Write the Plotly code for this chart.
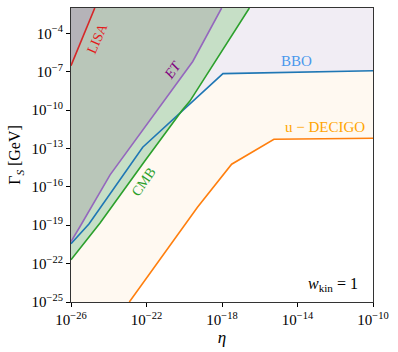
import plotly.graph_objects as go

# axis limits (log10)
X_MIN, X_MAX = -26, -10
Y_MIN, Y_MAX = -25, -2.02

# curves (log10 eta, log10 Gamma_S)
lisa_x = [-26.0, -24.74]
lisa_y = [-6.53, -2.02]

et_x = [-26.0, -25.52, -23.93, -22.96, -19.55, -18.02]
et_y = [-20.27, -19.1, -15.06, -13.11, -6.2, -2.02]

cmb_x = [-26.0, -24.46, -22.1, -20.1, -19.7, -16.55]
cmb_y = [-21.7, -18.83, -14.0, -10.0, -9.3, -2.02]

bbo_x = [-26.0, -25.05, -22.2, -19.6, -17.95, -10.0]
bbo_y = [-20.45, -18.9, -12.9, -9.4, -7.15, -6.93]

dec_x = [-22.91, -19.3, -17.49, -15.25, -10.0]
dec_y = [-25.0, -17.6, -14.23, -12.28, -12.2]

x_ticks = [-26, -22, -18, -14, -10]
y_ticks = [-25, -22, -19, -16, -13, -10, -7, -4]

FONT = "Liberation Serif"


def p(v):
    return [10.0 ** a for a in v]


def sup(e):
    return "10<sup>" + ("\u2212" + str(-e) if e < 0 else str(e)) + "</sup>"


fig = go.Figure()


def region(xs, ys, color):
    fig.add_trace(go.Scatter(x=p(xs), y=p(ys), fill="toself", fillcolor=color,
                             line=dict(width=0), mode="lines", hoverinfo="skip",
                             showlegend=False))


# filled regions (above each curve), painted in order
region(dec_x + [X_MAX, X_MIN, X_MIN], dec_y + [Y_MAX, Y_MAX, Y_MIN], "#fff9f1")
region(bbo_x + [X_MAX, X_MIN], bbo_y + [Y_MAX, Y_MAX], "#f1edf4")
region(cmb_x + [X_MIN], cmb_y + [Y_MAX], "#c6dfc6")
region(et_x + [X_MIN], et_y + [Y_MAX], "#b9c6b9")
region(lisa_x + [X_MIN], lisa_y + [Y_MAX], "#b5b3b8")


def curve(xs, ys, color):
    fig.add_trace(go.Scatter(x=p(xs), y=p(ys), mode="lines",
                             line=dict(color=color, width=1.6),
                             hoverinfo="skip", showlegend=False))


curve(dec_x, dec_y, "#ff7f0e")
curve(bbo_x, bbo_y, "#1f77b4")
curve(cmb_x, cmb_y, "#2ca02c")
curve(et_x, et_y, "#9467bd")
curve(lisa_x, lisa_y, "#d62728")


def label(text, x, y, color, angle=0, size=14):
    fig.add_annotation(x=x, y=y, xref="paper", yref="paper", text=text,
                       showarrow=False, textangle=angle,
                       xanchor="center", yanchor="middle",
                       font=dict(family=FONT, size=size, color=color))


def px2paper(px, py):
    return (px - 71) / (373 - 71), (302 - py) / (302 - 8)


label("LISA", *px2paper(97, 38), "#e31a1c", angle=-66, size=14)
label("<i>ET</i>", *px2paper(172, 70), "#800080", angle=-55, size=14)
label("CMB", *px2paper(143, 182), "#2ca02c", angle=-55, size=14)
label("BBO", *px2paper(296, 61), "#4a98ec", size=15)
label("u \u2212 DECIGO", *px2paper(325, 127), "#ffa500", size=15)
label("<i>w</i><sub>kin</sub> = 1", *px2paper(333, 284), "black", size=16)

axis_common = dict(showgrid=False, zeroline=False, ticks="outside", ticklen=4,
                   tickwidth=1, tickcolor="black", showline=True, linecolor="#333",
                   linewidth=1, mirror=True,
                   tickfont=dict(family=FONT, size=15, color="black"))

fig.update_xaxes(type="log", range=[X_MIN, X_MAX],
                 tickvals=[10.0 ** t for t in x_ticks],
                 ticktext=[sup(t) for t in x_ticks],
                 title=dict(text="<i>η</i>", font=dict(family=FONT, size=17, color="black"),
                            standoff=2),
                 **axis_common)
fig.update_yaxes(type="log", range=[Y_MIN, Y_MAX],
                 tickvals=[10.0 ** t for t in y_ticks],
                 ticktext=[sup(t) for t in y_ticks],
                 title=dict(text="Γ<sub><i>S</i></sub> [GeV]",
                            font=dict(family=FONT, size=16, color="black"), standoff=6),
                 **axis_common)

fig.update_layout(width=398, height=352, margin=dict(l=71, r=25, t=8, b=50),
                  plot_bgcolor="white", paper_bgcolor="white", showlegend=False)

fig.write_html("out.html", config={"displayModeBar": False},
               post_script="document.body.style.margin='0';")
